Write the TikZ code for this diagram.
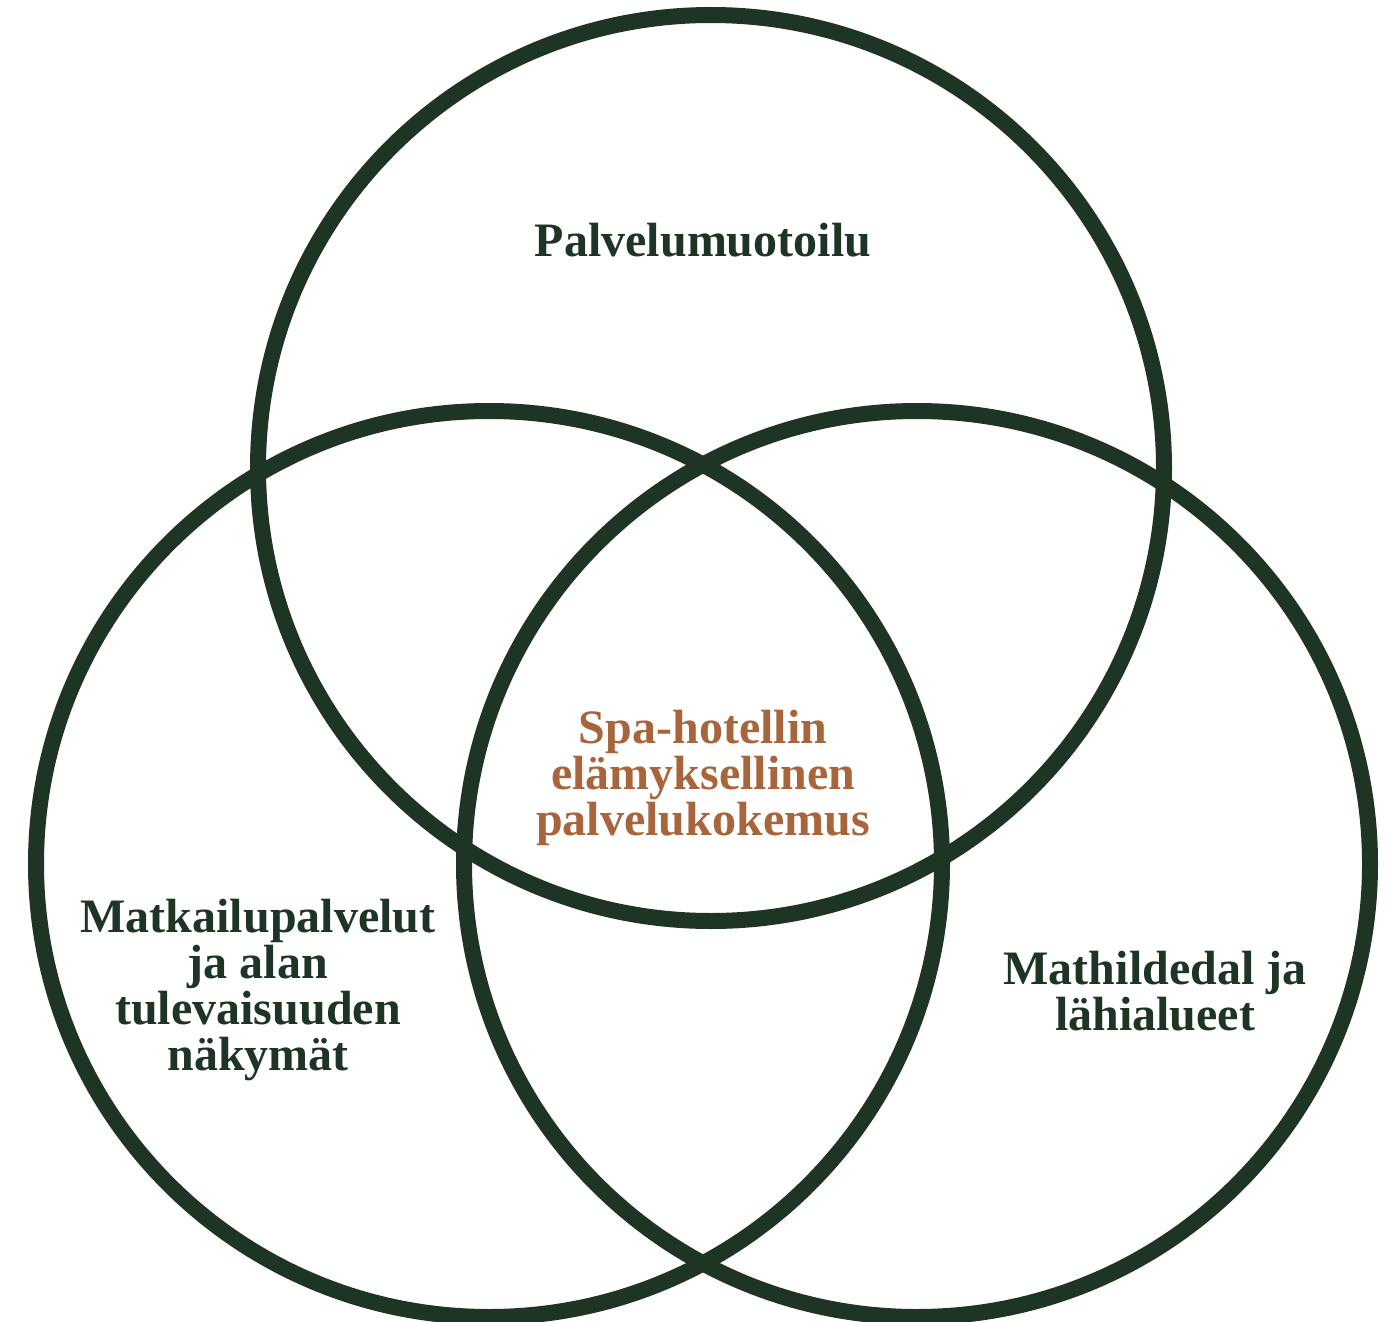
\documentclass[tikz,border=0pt]{standalone}
\usepackage{fontspec}
\setmainfont{Liberation Serif}
\definecolor{forest}{HTML}{1E3425}
\definecolor{copper}{HTML}{A8643A}
\begin{document}
\begin{tikzpicture}[x=1pt,y=-1pt,
  ring/.style={draw=forest,line width=16pt},
  label/.style={text=forest,font=\bfseries\fontsize{48}{46}\selectfont,align=center,inner sep=0pt},
  core/.style={label,text=copper}]
\useasboundingbox (0,0) rectangle (1392,1322);
% the three overlapping circles
\node[ring,circle,minimum size=906pt,inner sep=0pt] (top) at (711,468) {};
\node[ring,circle,minimum size=906pt,inner sep=0pt] (left) at (489,864) {};
\node[ring,circle,minimum size=906pt,inner sep=0pt] (right) at (917,864) {};
% labels
\node[label] (tl) at (703,240) {Palvelumuotoilu};
\node[label] (ll) at (258,990) {Matkailupalvelut\\ja alan\\tulevaisuuden\\näkymät};
\node[label] (rl) at (1155,991) {Mathildedal ja\\lähialueet};
\node[core] (cl) at (703,778) {Spa-hotellin\\elämyksellinen\\palvelukokemus};
\end{tikzpicture}
\end{document}
